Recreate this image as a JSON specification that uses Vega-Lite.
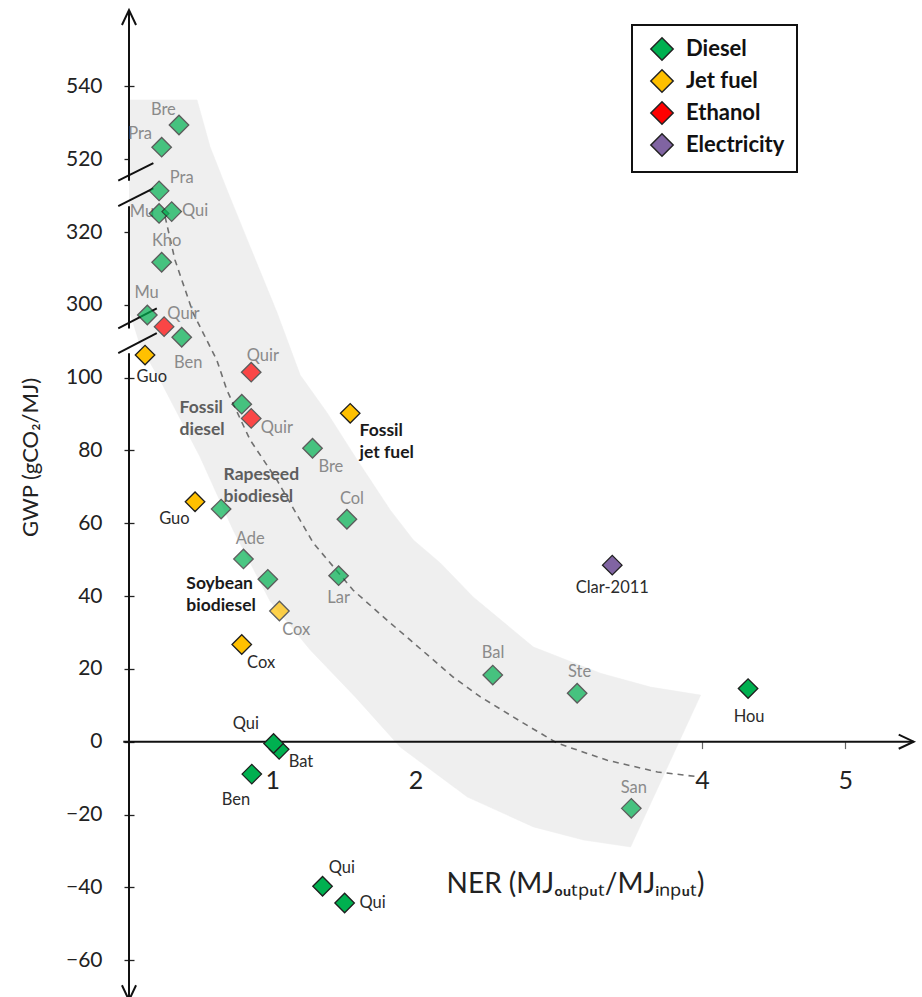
{
  "$schema": "https://vega.github.io/schema/vega-lite/v6.json",
  "width": 788,
  "height": 968,
  "autosize": {"type": "none"},
  "padding": {"left": 129, "top": 10, "right": 5, "bottom": 19},
  "background": "white",
  "config": {"view": {"stroke": null}, "font": "Lato", "legend": {"strokeWidth": 2}},
  "datasets": {
    "band": [
      {"i": 1, "NER": 0.0, "GWP": 536.3},
      {"i": 2, "NER": 0.475, "GWP": 536.3},
      {"i": 3, "NER": 0.566, "GWP": 523.4},
      {"i": 4, "NER": 0.685, "GWP": 331.5},
      {"i": 5, "NER": 0.846, "GWP": 315.9},
      {"i": 6, "NER": 1.034, "GWP": 297.8},
      {"i": 7, "NER": 1.195, "GWP": 100.7},
      {"i": 8, "NER": 1.384, "GWP": 90.3},
      {"i": 9, "NER": 1.593, "GWP": 77.4},
      {"i": 10, "NER": 1.824, "GWP": 63.6},
      {"i": 11, "NER": 1.985, "GWP": 55.4},
      {"i": 12, "NER": 2.173, "GWP": 49.1},
      {"i": 13, "NER": 2.404, "GWP": 39.7},
      {"i": 14, "NER": 2.823, "GWP": 26.0},
      {"i": 15, "NER": 3.291, "GWP": 18.8},
      {"i": 16, "NER": 3.641, "GWP": 15.0},
      {"i": 17, "NER": 3.99, "GWP": 12.8},
      {"i": 18, "NER": 3.501, "GWP": -28.9},
      {"i": 19, "NER": 3.173, "GWP": -27.0},
      {"i": 20, "NER": 2.823, "GWP": -23.4},
      {"i": 21, "NER": 2.362, "GWP": -15.2},
      {"i": 22, "NER": 1.894, "GWP": -1.5},
      {"i": 23, "NER": 1.579, "GWP": 12.3},
      {"i": 24, "NER": 1.265, "GWP": 25.2},
      {"i": 25, "NER": 0.985, "GWP": 38.6},
      {"i": 26, "NER": 0.727, "GWP": 58.1},
      {"i": 27, "NER": 0.496, "GWP": 78.2},
      {"i": 28, "NER": 0.217, "GWP": 99.3},
      {"i": 29, "NER": 0.077, "GWP": 288.9},
      {"i": 30, "NER": 0.0, "GWP": 298.6}
    ],
    "trend": [
      {"NER": 0.252, "GWP": 324.2},
      {"NER": 0.321, "GWP": 312.3},
      {"NER": 0.447, "GWP": 297.8},
      {"NER": 0.517, "GWP": 292.3},
      {"NER": 0.613, "GWP": 104.8},
      {"NER": 0.683, "GWP": 96.6},
      {"NER": 0.845, "GWP": 82.9},
      {"NER": 1.032, "GWP": 71.9},
      {"NER": 1.286, "GWP": 54.6},
      {"NER": 1.565, "GWP": 41.6},
      {"NER": 1.824, "GWP": 32.6},
      {"NER": 1.964, "GWP": 27.9},
      {"NER": 2.264, "GWP": 17.7},
      {"NER": 2.453, "GWP": 12.3},
      {"NER": 2.753, "GWP": 5.1},
      {"NER": 2.989, "GWP": -0.4},
      {"NER": 3.338, "GWP": -5.1},
      {"NER": 3.688, "GWP": -8.3},
      {"NER": 3.967, "GWP": -9.6}
    ],
    "axes": [
      {"NER": 0, "GWP": -71, "NER2": 0, "GWP2": 106.7},
      {"NER": 0, "GWP": 293.5, "NER2": 0, "GWP2": 327.1},
      {"NER": 0, "GWP": 334.1, "NER2": 0, "GWP2": 561},
      {"NER": -0.075, "GWP": 334.1, "NER2": 0.17, "GWP2": 518.9},
      {"NER": -0.075, "GWP": 327.1, "NER2": 0.17, "GWP2": 332.0},
      {"NER": -0.075, "GWP": 293.5, "NER2": 0.194, "GWP2": 299.0},
      {"NER": -0.075, "GWP": 106.7, "NER2": 0.194, "GWP2": 292.2},
      {"NER": -0.04, "GWP": 0, "NER2": 5.477, "GWP2": 0}
    ],
    "arrows": [
      {"NER": 0, "GWP": 561, "direction": "up"},
      {"NER": 0, "GWP": -71, "direction": "down"},
      {"NER": 5.477, "GWP": 0, "direction": "right"}
    ],
    "labels": [
      {"label": "Bre", "NER": 0.24, "GWP": 533.5, "kind": "other"},
      {"label": "Pra", "NER": 0.077, "GWP": 526.9, "kind": "other"},
      {"label": "Pra", "NER": 0.368, "GWP": 334.7, "kind": "other"},
      {"label": "Mu", "NER": 0.09, "GWP": 325.6, "kind": "other"},
      {"label": "Qui", "NER": 0.461, "GWP": 325.9, "kind": "other"},
      {"label": "Kho", "NER": 0.263, "GWP": 317.5, "kind": "other"},
      {"label": "Mu", "NER": 0.123, "GWP": 303.2, "kind": "other"},
      {"label": "Quir", "NER": 0.38, "GWP": 297.5, "kind": "other"},
      {"label": "Ben", "NER": 0.414, "GWP": 103.9, "kind": "other"},
      {"label": "Guo", "NER": 0.159, "GWP": 100.1, "kind": "highlighted"},
      {"label": "Quir", "NER": 0.934, "GWP": 105.9, "kind": "other"},
      {"label": "Quir", "NER": 1.032, "GWP": 86.2, "kind": "other"},
      {"label": "Bre", "NER": 1.409, "GWP": 75.5, "kind": "other"},
      {"label": "Col", "NER": 1.556, "GWP": 66.6, "kind": "other"},
      {"label": "Guo", "NER": 0.317, "GWP": 61.1, "kind": "highlighted"},
      {"label": "Ade", "NER": 0.846, "GWP": 55.7, "kind": "other"},
      {"label": "Lar", "NER": 1.463, "GWP": 39.4, "kind": "other"},
      {"label": "Cox", "NER": 1.167, "GWP": 30.7, "kind": "other"},
      {"label": "Cox", "NER": 0.922, "GWP": 21.5, "kind": "highlighted"},
      {"label": "Qui", "NER": 0.815, "GWP": 4.8, "kind": "highlighted"},
      {"label": "Bat", "NER": 1.2, "GWP": -5.7, "kind": "highlighted"},
      {"label": "Ben", "NER": 0.747, "GWP": -15.9, "kind": "highlighted"},
      {"label": "Qui", "NER": 1.486, "GWP": -34.8, "kind": "highlighted"},
      {"label": "Qui", "NER": 1.7, "GWP": -44.4, "kind": "highlighted"},
      {"label": "Clar-2011", "NER": 3.373, "GWP": 42.1, "kind": "highlighted"},
      {"label": "Bal", "NER": 2.541, "GWP": 24.3, "kind": "other"},
      {"label": "Ste", "NER": 3.145, "GWP": 19.2, "kind": "other"},
      {"label": "Hou", "NER": 4.328, "GWP": 6.8, "kind": "highlighted"},
      {"label": "San", "NER": 3.524, "GWP": -12.8, "kind": "other"}
    ],
    "groups": [
      {"label": "Fossil\ndiesel", "NER": 0.353, "GWP": 91.6, "kind": "other"},
      {"label": "Rapeseed\nbiodiesel", "NER": 0.66, "GWP": 73.2, "kind": "other"},
      {"label": "Soybean\nbiodiesel", "NER": 0.4, "GWP": 43.3, "kind": "highlighted"},
      {"label": "Fossil\njet fuel", "NER": 1.609, "GWP": 85.3, "kind": "highlighted"}
    ],
    "points": [
      {"fuel": "Diesel", "NER": 0.349, "GWP": 529.4, "kind": "other"},
      {"fuel": "Diesel", "NER": 0.228, "GWP": 523.3, "kind": "other"},
      {"fuel": "Diesel", "NER": 0.21, "GWP": 331.3, "kind": "other"},
      {"fuel": "Diesel", "NER": 0.21, "GWP": 325.1, "kind": "other"},
      {"fuel": "Diesel", "NER": 0.298, "GWP": 325.6, "kind": "other"},
      {"fuel": "Diesel", "NER": 0.228, "GWP": 311.7, "kind": "other"},
      {"fuel": "Diesel", "NER": 0.128, "GWP": 297.2, "kind": "other"},
      {"fuel": "Diesel", "NER": 0.368, "GWP": 291.1, "kind": "other"},
      {"fuel": "Diesel", "NER": 0.787, "GWP": 92.7, "kind": "other"},
      {"fuel": "Diesel", "NER": 1.281, "GWP": 80.6, "kind": "other"},
      {"fuel": "Diesel", "NER": 1.521, "GWP": 61.1, "kind": "other"},
      {"fuel": "Diesel", "NER": 0.643, "GWP": 63.9, "kind": "other"},
      {"fuel": "Diesel", "NER": 0.799, "GWP": 50.2, "kind": "other"},
      {"fuel": "Diesel", "NER": 0.969, "GWP": 44.6, "kind": "other"},
      {"fuel": "Diesel", "NER": 1.463, "GWP": 45.6, "kind": "other"},
      {"fuel": "Diesel", "NER": 2.539, "GWP": 18.3, "kind": "other"},
      {"fuel": "Diesel", "NER": 3.128, "GWP": 13.3, "kind": "other"},
      {"fuel": "Diesel", "NER": 3.506, "GWP": -18.3, "kind": "other"},
      {"fuel": "Ethanol", "NER": 0.245, "GWP": 294.0, "kind": "other"},
      {"fuel": "Ethanol", "NER": 0.853, "GWP": 101.5, "kind": "other"},
      {"fuel": "Ethanol", "NER": 0.853, "GWP": 88.8, "kind": "other"},
      {"fuel": "Jet fuel", "NER": 1.05, "GWP": 35.9, "kind": "other"},
      {"fuel": "Jet fuel", "NER": 0.112, "GWP": 106.2, "kind": "highlighted"},
      {"fuel": "Jet fuel", "NER": 1.544, "GWP": 90.2, "kind": "highlighted"},
      {"fuel": "Jet fuel", "NER": 0.461, "GWP": 65.9, "kind": "highlighted"},
      {"fuel": "Jet fuel", "NER": 0.787, "GWP": 26.7, "kind": "highlighted"},
      {"fuel": "Diesel", "NER": 1.048, "GWP": -2.1, "kind": "highlighted"},
      {"fuel": "Diesel", "NER": 1.009, "GWP": -0.5, "kind": "highlighted"},
      {"fuel": "Diesel", "NER": 0.857, "GWP": -8.9, "kind": "highlighted"},
      {"fuel": "Diesel", "NER": 1.351, "GWP": -39.7, "kind": "highlighted"},
      {"fuel": "Diesel", "NER": 1.505, "GWP": -44.3, "kind": "highlighted"},
      {"fuel": "Diesel", "NER": 4.321, "GWP": 14.6, "kind": "highlighted"},
      {"fuel": "Electricity", "NER": 3.373, "GWP": 48.5, "kind": "highlighted"}
    ]
  },
  "encoding": {
    "x": {
      "field": "NER",
      "type": "quantitative",
      "scale": {"domain": [0, 5.5], "nice": false, "zero": false},
      "axis": {
        "title": "NER (MJₒᵤₜₚᵤₜ/MJᵢₙₚᵤₜ)",
        "values": [1, 2, 3, 4, 5],
        "offset": -236.4,
        "domain": false,
        "grid": false,
        "tickSize": 7,
        "tickColor": "#666666",
        "tickWidth": 1.2,
        "labelFont": "Lato",
        "labelFontSize": 25,
        "labelColor": "#222222",
        "labelPadding": 20,
        "titleFont": "Lato",
        "titleFontSize": 28,
        "titleFontWeight": "normal",
        "titleColor": "#222222",
        "titleX": 446,
        "titleY": 143,
        "titleAlign": "center",
        "titleBaseline": "middle"
      }
    },
    "y": {
      "field": "GWP",
      "type": "quantitative",
      "scale": {
        "domain": [-64.9, 108, 288, 335, 515, 561],
        "range": [968, 338.5, 338.5, 167.4, 167.4, 0],
        "nice": false,
        "zero": false
      },
      "axis": {
        "title": "GWP (gCO₂/MJ)",
        "values": [-60, -40, -20, 0, 20, 40, 60, 80, 100, 300, 320, 520, 540],
        "offset": -5,
        "domain": false,
        "grid": false,
        "tickSize": 10,
        "tickColor": "#222222",
        "tickWidth": 1.3,
        "labelFont": "Lato",
        "labelFontSize": 21,
        "labelColor": "#222222",
        "labelPadding": 22,
        "titleFont": "Lato",
        "titleFontSize": 22,
        "titleFontWeight": "normal",
        "titleColor": "#222222",
        "titleAngle": -90,
        "titleX": -104,
        "titleY": 447,
        "titleAlign": "center",
        "titleBaseline": "middle"
      }
    }
  },
  "layer": [
    {
      "data": {"name": "band"},
      "mark": {"type": "line", "fill": "#efefef", "stroke": "#efefef", "strokeWidth": 0.5},
      "encoding": {"order": {"field": "i", "type": "quantitative"}}
    },
    {
      "data": {"name": "trend"},
      "mark": {"type": "line", "stroke": "#707070", "strokeDash": [6, 5], "strokeWidth": 1.6},
      "encoding": {}
    },
    {
      "data": {"name": "axes"},
      "mark": {"type": "rule", "stroke": "#111111", "strokeWidth": 2},
      "encoding": {
        "x2": {"field": "NER2"},
        "y2": {"field": "GWP2"}
      }
    },
    {
      "data": {"name": "arrows"},
      "mark": {"type": "point", "filled": false, "stroke": "#111111", "strokeWidth": 2, "size": 900, "opacity": 1},
      "encoding": {
        "shape": {
          "field": "direction",
          "type": "nominal",
          "scale": {
            "domain": ["up", "down", "right"],
            "range": ["M-0.47,1L0,0L0.47,1", "M-0.47,-1L0,0L0.47,-1", "M-1,-0.47L0,0L-1,0.47"]
          },
          "legend": null
        }
      }
    },
    {
      "data": {"name": "labels"},
      "mark": {"type": "text", "font": "Lato", "fontSize": 16.5, "align": "center", "baseline": "middle"},
      "encoding": {
        "text": {"field": "label"},
        "color": {"condition": {"test": "datum.kind === 'highlighted'", "value": "#2b2b2b"}, "value": "#8a8a8a"}
      }
    },
    {
      "data": {"name": "groups"},
      "mark": {"type": "text", "font": "Lato", "fontSize": 17.5, "fontWeight": "bold", "align": "left", "baseline": "middle", "lineBreak": "\n", "lineHeight": 22},
      "encoding": {
        "text": {"field": "label"},
        "color": {"condition": {"test": "datum.kind === 'highlighted'", "value": "#1a1a1a"}, "value": "#5e5e5e"}
      }
    },
    {
      "data": {"name": "points"},
      "mark": {"type": "point", "shape": "diamond", "filled": true, "size": 380, "stroke": "#1e1e1e", "strokeWidth": 1.3},
      "encoding": {
        "color": {
          "field": "fuel",
          "type": "nominal",
          "scale": {
            "domain": ["Diesel", "Jet fuel", "Ethanol", "Electricity"],
            "range": ["#00b050", "#ffc000", "#ff0000", "#8064a2"]
          },
          "legend": {
            "title": null,
            "orient": "none",
            "legendX": 503,
            "legendY": 15,
            "symbolType": "diamond",
            "symbolSize": 500,
            "symbolStrokeColor": "#222222",
            "symbolStrokeWidth": 1.5,
            "symbolOpacity": 1,
            "symbolOffset": 6,
            "labelFont": "Lato",
            "labelFontSize": 22,
            "labelFontWeight": "bold",
            "labelColor": "#111111",
            "labelOffset": 12,
            "labelExpr": "datum.label + '\u00a0\u00a0\u00a0\u00a0\u00a0\u00a0'",
            "padding": 12,
            "rowPadding": 2,
            "strokeColor": "#111111"
          }
        },
        "opacity": {"condition": {"test": "datum.kind === 'other'", "value": 0.7}, "value": 1}
      }
    }
  ]
}
